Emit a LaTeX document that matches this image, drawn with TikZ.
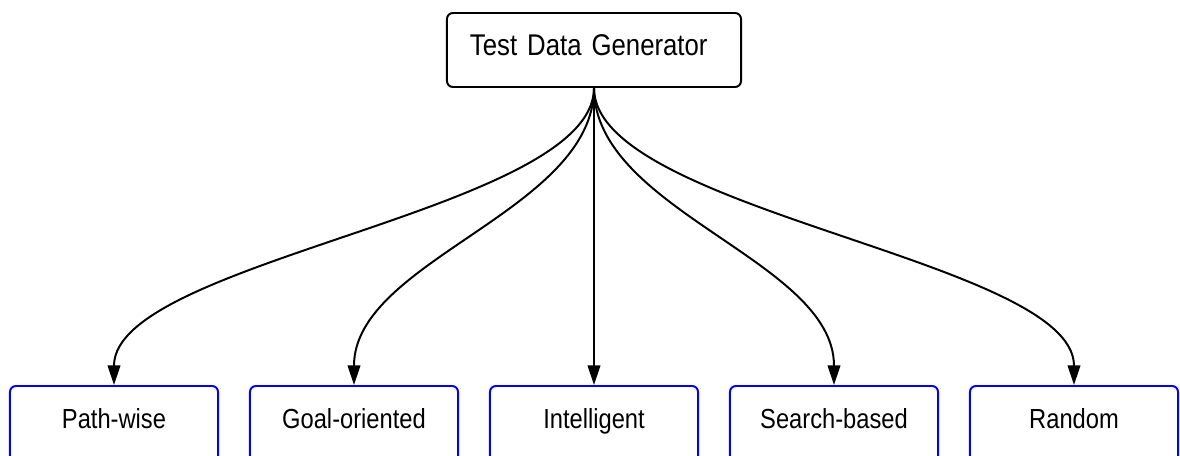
\documentclass[tikz,border=0pt]{standalone}
\usepackage{fontspec}
\setmainfont{Liberation Sans}[FakeStretch=0.86]
\usetikzlibrary{arrows.meta}
\tikzset{
	rootbox/.style={draw=black, line width=1.4pt, rounded corners=0.15cm, font=\fontsize{21.3}{24}\selectfont,
		minimum height=1.85cm, inner xsep=0.575cm, text width=6.2cm, align=left, text height=0.55cm, text depth=0.3cm},
	kindbox/.style={draw=blue, line width=1.4pt, rounded corners=0.15cm, font=\fontsize{19.6}{22}\selectfont,
		minimum width=5.2cm, inner ysep=0.3cm, text height=0.75cm, text depth=2cm, anchor=north},
	conn/.style={line width=1.4pt, -{Triangle[length=14pt, width=9pt]}}
}

\begin{document}
\begin{tikzpicture}[x=0.025cm, y=-0.025cm]
			%%%%% FRAME %%%%%
			\useasboundingbox (0, 0) rectangle (1180, 455);
			\clip (0, 0) rectangle (1180, 455);
			
			%%%%% BOXES %%%%%
			\node[rootbox] (gen) at (594, 50) {Test Data Generator};
			
			\node[kindbox] (pw) at (114, 385) {Path-wise};
			\node[kindbox] (goal) at (354, 385) {Goal-oriented};
			\node[kindbox] (intel) at (594, 385) {Intelligent};
			\node[kindbox] (search) at (834, 385) {Search-based};
			\node[kindbox] (rnd) at (1074, 385) {Random};
			
			%%%%% ARROWS %%%%%
			\draw[conn] (gen.south) .. controls +(0, 123) and +(0, -125) .. (pw.north);
			\draw[conn] (gen.south) .. controls +(0, 123) and +(0, -125) .. (goal.north);
			\draw[conn] (gen.south) -- (intel.north);
			\draw[conn] (gen.south) .. controls +(0, 123) and +(0, -125) .. (search.north);
			\draw[conn] (gen.south) .. controls +(0, 123) and +(0, -125) .. (rnd.north);
			%%%%% END %%%%%
		\end{tikzpicture}
\end{document}
